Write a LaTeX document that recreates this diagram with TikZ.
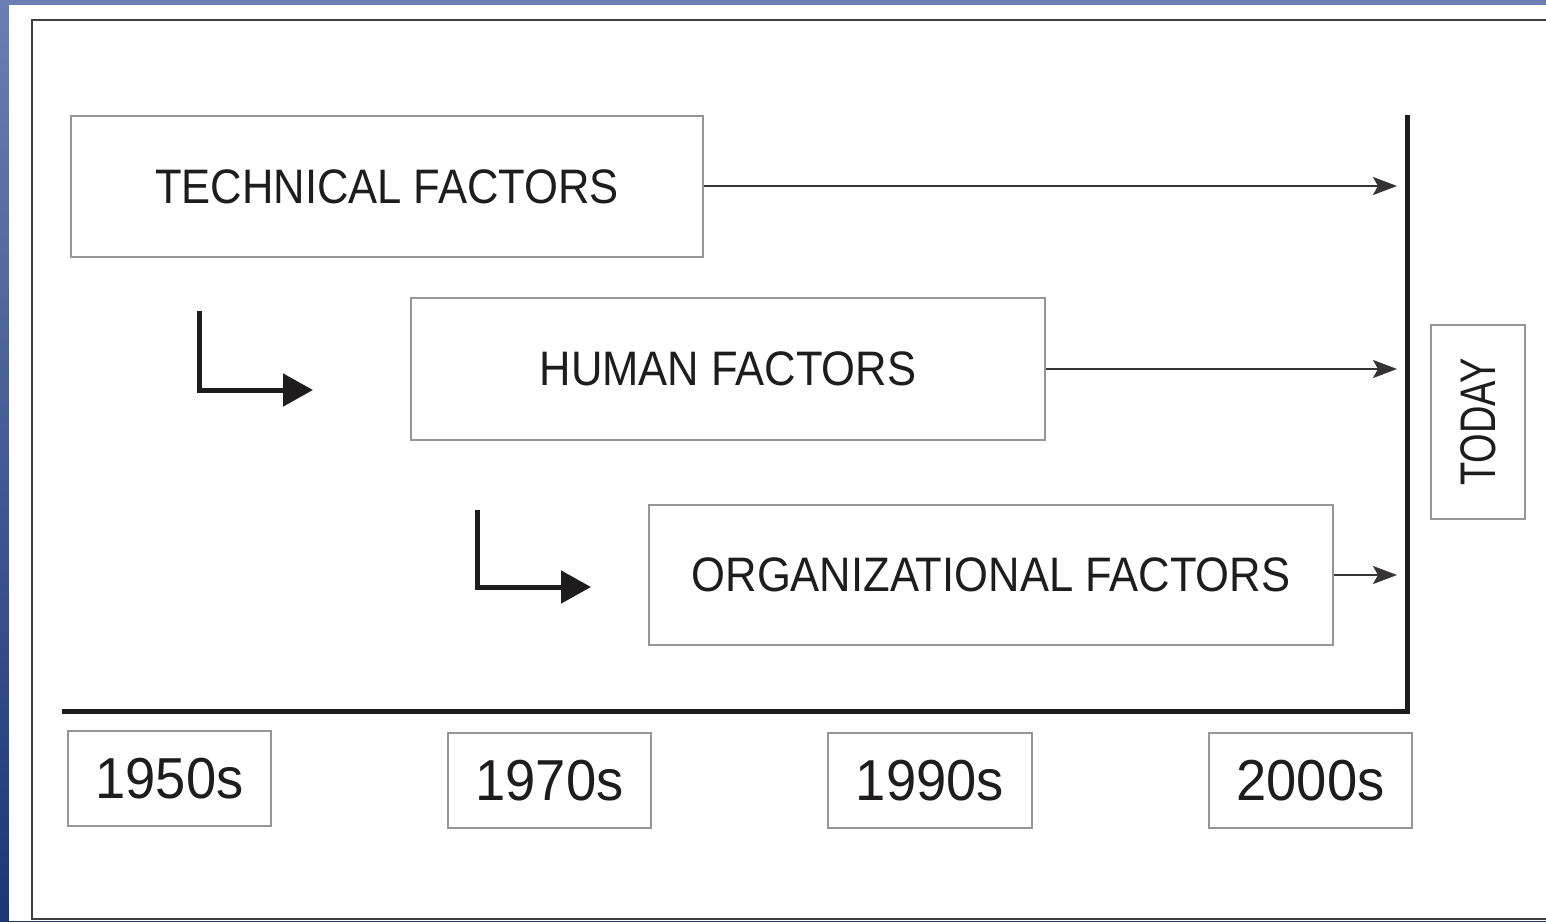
\documentclass[tikz,border=0pt]{standalone}
\usepackage{fontspec}
\setmainfont{Liberation Sans}
\newfontfamily\factorfont[FakeStretch=0.9]{Liberation Sans}
\newfontfamily\yearfont[FakeStretch=0.94]{Liberation Sans}
\newfontfamily\todayfont[FakeStretch=0.76]{Liberation Sans}
\usepackage{xcolor}
\usepackage{tikz}
\usetikzlibrary{shapes,arrows.meta}

\definecolor{slidetop}{RGB}{106,126,178}
\definecolor{slidebot}{RGB}{30,54,118}
\definecolor{boxgray}{RGB}{150,150,150}
\definecolor{inkdark}{RGB}{30,28,28}

\begin{document}
\begin{tikzpicture}[x=1pt, y=-1pt]
\tikzstyle{factorbox}=[draw=boxgray, line width=2pt, text=inkdark, inner sep=0pt, font=\factorfont\fontsize{48.4}{53}\selectfont]
\tikzstyle{yearbox}=[draw=boxgray, line width=2pt, text=inkdark, inner sep=0pt, minimum width=203pt, minimum height=95pt, font=\yearfont\fontsize{57.8}{63}\selectfont]
\tikzstyle{timeline}=[draw=inkdark, line width=5pt]
\tikzstyle{flow}=[draw=inkdark!90!white, line width=2pt, -{Stealth[length=24pt, width=18pt, inset=5pt]}]
\tikzstyle{focusarrow}=[draw=inkdark, line width=5pt, -{Triangle[length=30pt, width=32pt]}]
\useasboundingbox (0,0) rectangle (1546,921);
% slide background
\path[top color=slidetop, bottom color=slidebot] (0,0) rectangle (1546,921);
\fill[white] (9,5) rectangle (1546,921);
\draw[draw=inkdark!85!white, line width=2.5pt] (1550,20) -- (32,20) -- (32,919) -- (1550,919);
% factor boxes
\node[factorbox, minimum width=632pt, minimum height=141pt] (tech) at (387,186.5) {TECHNICAL FACTORS};
\node[factorbox, minimum width=634pt, minimum height=142pt] (human) at (728,369) {HUMAN FACTORS};
\node[factorbox, minimum width=684pt, minimum height=140pt] (org) at (991,575) {ORGANIZATIONAL FACTORS};
\node[factorbox, rotate=90, minimum width=194pt, minimum height=94pt, font=\todayfont\fontsize{50}{55}\selectfont] (today) at (1478,422) {TODAY};
% decades
\node[yearbox] (y1950) at (169.5,778.5) {1950s};
\node[yearbox] (y1970) at (549.5,780.5) {1970s};
\node[yearbox, minimum width=204pt] (y1990) at (930,780.5) {1990s};
\node[yearbox] (y2000) at (1310.5,780.5) {2000s};
% time axis
\coordinate (axisstart) at (62,711);
\coordinate (axiscorner) at (1407,711);
\coordinate (axistop) at (1407,115);
\draw[timeline] (axisstart) -- (axiscorner) -- (axistop);
\coordinate (techend) at (1397,186);
\coordinate (humanend) at (1397,369);
\coordinate (orgend) at (1397,575);
\draw[flow] (tech.east |- techend) -- (techend);
\draw[flow] (human.east |- humanend) -- (humanend);
\draw[flow] (org.east |- orgend) -- (orgend);
% shifts of focus
\coordinate (shiftA) at (199,311);
\coordinate (shiftAend) at (313,390);
\coordinate (shiftB) at (477,510);
\coordinate (shiftBend) at (591,587);
\draw[focusarrow] (shiftA) |- (shiftAend);
\draw[focusarrow] (shiftB) |- (shiftBend);
\end{tikzpicture}
\end{document}
